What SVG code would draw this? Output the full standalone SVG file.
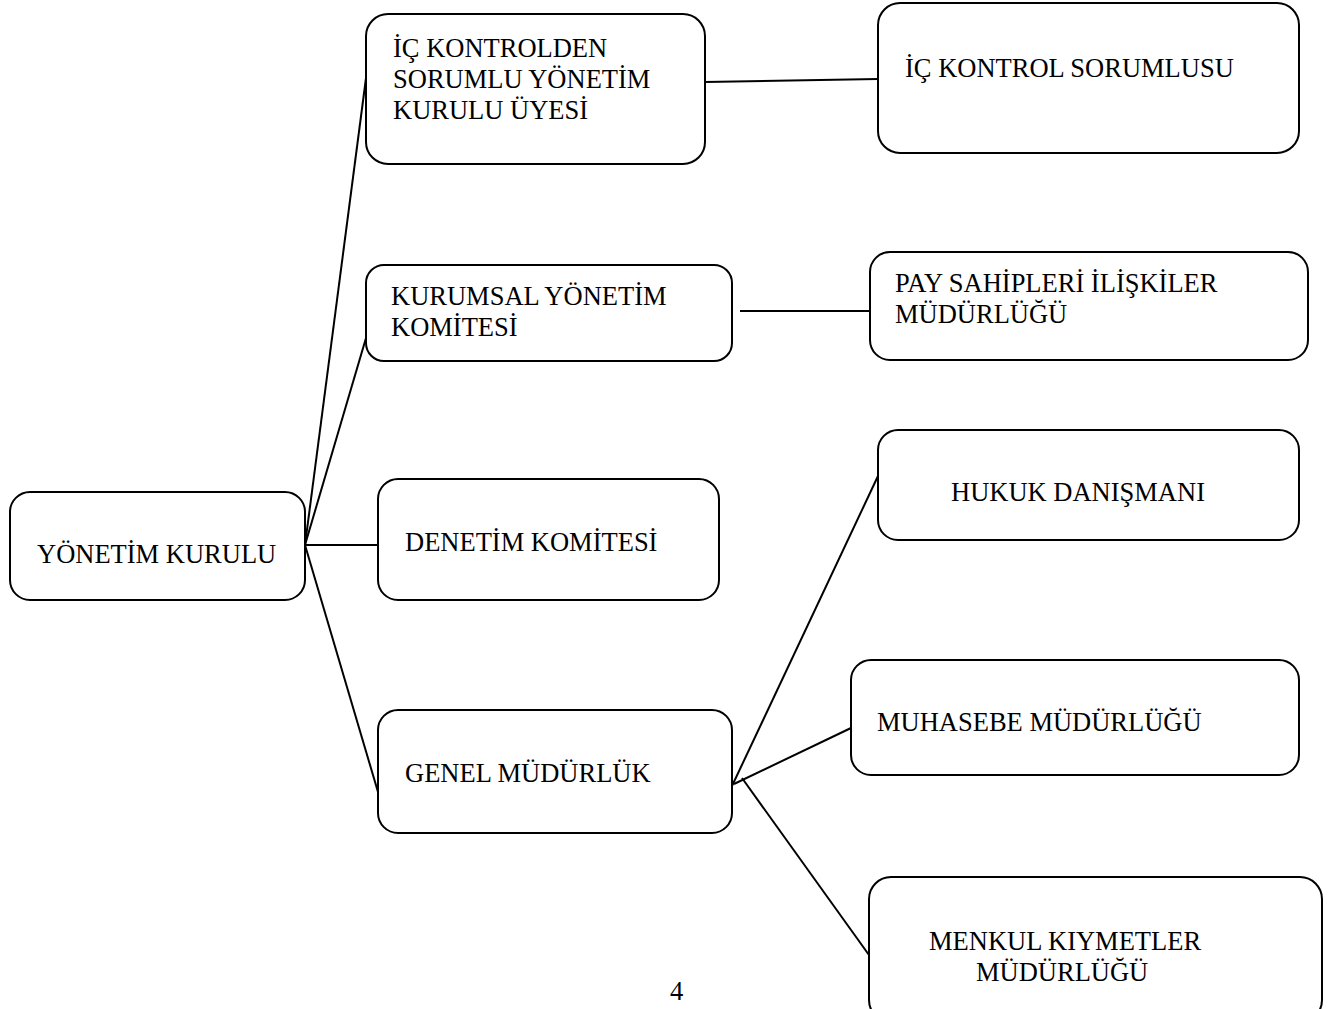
<svg xmlns="http://www.w3.org/2000/svg" width="1340" height="1009" viewBox="0 0 1340 1009">
<style>
.box{fill:#fff;stroke:#000;stroke-width:2}
.t{font-size:26.5px;fill:#000}
.c{stroke:#000;stroke-width:2;fill:none}
</style>
<rect width="1340" height="1009" fill="#fff"/>
<g id="connectors">
<line class="c" x1="305" y1="545" x2="366" y2="78"/>
<line class="c" x1="305" y1="545" x2="366" y2="338"/>
<line class="c" x1="305" y1="545" x2="378" y2="545"/>
<line class="c" x1="305" y1="545" x2="378" y2="792"/>
<line class="c" x1="705" y1="82" x2="878" y2="79"/>
<line class="c" x1="740" y1="311" x2="870" y2="311"/>
<line class="c" x1="732" y1="786" x2="878" y2="476"/>
<line class="c" x1="734" y1="784" x2="851" y2="728"/>
<line class="c" x1="742" y1="778" x2="869" y2="955"/>
</g>
<g font-family="'Liberation Serif', Tinos, 'Times New Roman', serif">
<g id="yonetim-kurulu">
<rect class="box" x="10" y="492" width="295" height="108" rx="20"/>
<text class="t" x="37" y="563">YÖNETİM KURULU</text>
</g>
<g id="ic-kontrolden">
<rect class="box" x="366" y="14" width="339" height="150" rx="22"/>
<text class="t" x="393" y="57">İÇ KONTROLDEN</text>
<text class="t" x="393" y="88">SORUMLU YÖNETİM</text>
<text class="t" x="393" y="119">KURULU ÜYESİ</text>
</g>
<g id="ic-kontrol-sorumlusu">
<rect class="box" x="878" y="3" width="421" height="150" rx="22"/>
<text class="t" x="905" y="77">İÇ KONTROL SORUMLUSU</text>
</g>
<g id="kurumsal-yonetim">
<rect class="box" x="366" y="265" width="366" height="96" rx="18"/>
<text class="t" x="391" y="305">KURUMSAL YÖNETİM</text>
<text class="t" x="391" y="336">KOMİTESİ</text>
</g>
<g id="pay-sahipleri">
<rect class="box" x="870" y="252" width="438" height="108" rx="20"/>
<text class="t" x="895" y="292">PAY SAHİPLERİ İLİŞKİLER</text>
<text class="t" x="895" y="323">MÜDÜRLÜĞÜ</text>
</g>
<g id="denetim-komitesi">
<rect class="box" x="378" y="479" width="341" height="121" rx="20"/>
<text class="t" x="405" y="551">DENETİM KOMİTESİ</text>
</g>
<g id="hukuk-danismani">
<rect class="box" x="878" y="430" width="421" height="110" rx="20"/>
<text class="t" x="951" y="501">HUKUK DANIŞMANI</text>
</g>
<g id="genel-mudurluk">
<rect class="box" x="378" y="710" width="354" height="123" rx="20"/>
<text class="t" x="405" y="782">GENEL MÜDÜRLÜK</text>
</g>
<g id="muhasebe">
<rect class="box" x="851" y="660" width="448" height="115" rx="20"/>
<text class="t" x="877" y="731">MUHASEBE MÜDÜRLÜĞÜ</text>
</g>
<g id="menkul-kiymetler">
<rect class="box" x="869" y="877" width="453" height="145" rx="22"/>
<text class="t" x="929" y="950">MENKUL KIYMETLER</text>
<text class="t" x="976" y="981">MÜDÜRLÜĞÜ</text>
</g>
<text class="t" x="670" y="1000">4</text>
</g>
</svg>
